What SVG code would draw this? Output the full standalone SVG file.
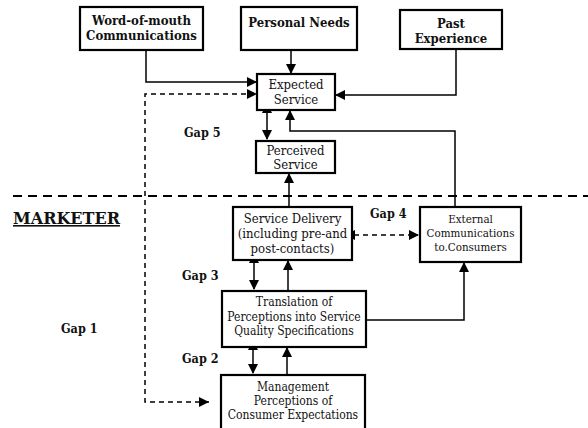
<svg xmlns="http://www.w3.org/2000/svg" width="588" height="428" viewBox="0 0 588 428">
<style>
.box{fill:#fff;stroke:#000;stroke-width:2.2}
.t{font-family:"DejaVu Serif","Liberation Serif","Times New Roman",serif;font-stretch:condensed;font-size:12px;text-anchor:middle;fill:#111}
.t13{font-size:13px}
.tb{font-family:"DejaVu Serif","Liberation Serif","Times New Roman",serif;font-stretch:condensed;font-size:13px;font-weight:bold;text-anchor:middle;fill:#111}
.lab{font-family:"DejaVu Serif","Liberation Serif","Times New Roman",serif;font-stretch:condensed;font-size:12.5px;font-weight:bold;fill:#111}
.ln{fill:none;stroke:#000;stroke-width:1.5}
.dl{fill:none;stroke:#000;stroke-width:1.5;stroke-dasharray:5,4}
.div{fill:none;stroke:#000;stroke-width:2;stroke-dasharray:9,6}
</style>
<defs>
<marker id="ah" viewBox="0 0 10 10" refX="9" refY="5" markerWidth="10" markerHeight="10" orient="auto" markerUnits="userSpaceOnUse">
<path d="M0,0 L10,5 L0,10 z" fill="#000"/>
</marker>
<marker id="ahs" viewBox="0 0 10 10" refX="1" refY="5" markerWidth="10" markerHeight="10" orient="auto-start-reverse" markerUnits="userSpaceOnUse">
<path d="M0,0 L10,5 L0,10 z" fill="#000"/>
</marker>
</defs>

<rect width="588" height="428" fill="#fff"/>

<g id="divider">
<line class="div" x1="13" y1="196" x2="588" y2="196"/>
</g>

<g id="connectors">
<path class="ln" d="M146,50 V82 H256" marker-end="url(#ah)"/>
<path class="dl" d="M209,402 H145 V94 H256" marker-end="url(#ah)"/>
<path d="M199,397 L209,402 L199,407 z" fill="#000"/>
<path class="ln" d="M291,50 V73" marker-end="url(#ah)"/>
<path class="ln" d="M456,49 V95 H336" marker-end="url(#ah)"/>
<path class="ln" d="M267,112 V139" marker-start="url(#ahs)" marker-end="url(#ah)"/>
<path class="ln" d="M455,207 V131 H290 V111" marker-end="url(#ah)"/>
<path class="ln" d="M289,207 V174" marker-end="url(#ah)"/>
<path class="dl" d="M354,235 H418" marker-start="url(#ahs)" marker-end="url(#ah)"/>
<path class="ln" d="M254,262 V289" marker-start="url(#ahs)" marker-end="url(#ah)"/>
<path class="ln" d="M288,291 V261" marker-end="url(#ah)"/>
<path class="ln" d="M366,320 H464 V263" marker-end="url(#ah)"/>
<path class="ln" d="M253,349 V373" marker-start="url(#ahs)" marker-end="url(#ah)"/>
<path class="ln" d="M287,375 V348" marker-end="url(#ah)"/>
</g>

<g id="word-of-mouth">
<rect class="box" x="80" y="7" width="123" height="43"/>
<text class="tb" x="141.5" y="25">Word-of-mouth</text>
<text class="tb" x="141.5" y="40">Communications</text>
</g>

<g id="personal-needs">
<rect class="box" x="241" y="7" width="116" height="43"/>
<text class="tb" x="299" y="27">Personal Needs</text>
</g>

<g id="past-experience">
<rect class="box" x="400" y="10" width="102" height="39"/>
<text class="tb" x="451" y="28">Past</text>
<text class="tb" x="451" y="43">Experience</text>
</g>

<g id="expected-service">
<rect class="box" x="257" y="74" width="78" height="36"/>
<text class="t t13" x="296" y="89">Expected</text>
<text class="t t13" x="296" y="104">Service</text>
</g>

<g id="perceived-service">
<rect class="box" x="256" y="141" width="79" height="32"/>
<text class="t t13" x="295.5" y="155">Perceived</text>
<text class="t t13" x="295.5" y="169">Service</text>
</g>

<g id="service-delivery">
<rect class="box" x="233" y="207" width="119" height="53"/>
<text class="t t13" x="292.5" y="223">Service Delivery</text>
<text class="t t13" x="292.5" y="238">(including pre-and</text>
<text class="t t13" x="292.5" y="253">post-contacts)</text>
</g>

<g id="external-communications">
<rect class="box" x="420" y="207" width="101" height="55"/>
<text class="t" x="470.5" y="223" style="font-size:11.5px">External</text>
<text class="t" x="470.5" y="237" style="font-size:11.5px">Communications</text>
<text class="t" x="470.5" y="251" style="font-size:11.5px">to.Consumers</text>
</g>

<g id="translation">
<rect class="box" x="222" y="291" width="144" height="56"/>
<text class="t" x="294" y="306">Translation of</text>
<text class="t" x="294" y="321">Perceptions into Service</text>
<text class="t" x="294" y="335">Quality Specifications</text>
</g>

<g id="management">
<rect class="box" x="221" y="375" width="144" height="56"/>
<text class="t" x="293" y="391">Management</text>
<text class="t" x="293" y="405">Perceptions of</text>
<text class="t" x="293" y="419">Consumer Expectations</text>
</g>

<g id="labels">
<text class="lab" x="184" y="137">Gap 5</text>
<text class="lab" x="13" y="224" style="font-size:16px;font-stretch:normal;text-decoration:underline">MARKETER</text>
<text class="lab" x="370" y="218">Gap 4</text>
<text class="lab" x="182" y="280">Gap 3</text>
<text class="lab" x="61" y="333">Gap 1</text>
<text class="lab" x="182" y="363">Gap 2</text>
</g>
</svg>
